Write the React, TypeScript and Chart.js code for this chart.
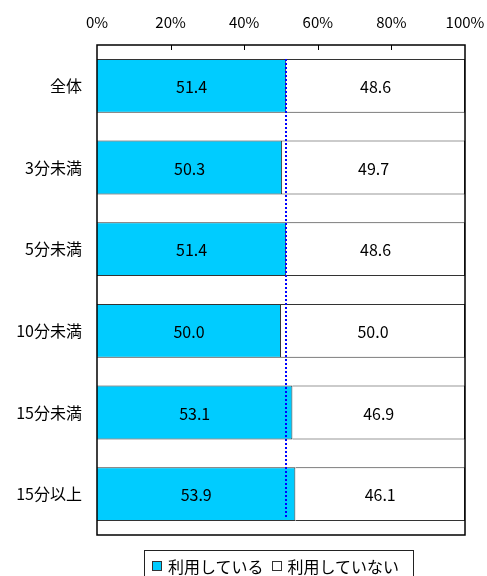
import React, { useEffect, useRef } from "react";
import { Chart, registerables } from "chart.js";

Chart.register(...registerables);

const categories = ["全体", "3分未満", "5分未満", "10分未満", "15分未満", "15分以上"];
const usingValues = [51.4, 50.3, 51.4, 50.0, 53.1, 53.9];
const notUsingValues = [48.6, 49.7, 48.6, 50.0, 46.9, 46.1];
const seriesNames = ["利用している", "利用していない"];
const xTicks = [0, 20, 40, 60, 80, 100];
const referenceValue = 51.4;

const FONT = "'Noto Sans CJK JP', 'Noto Sans', sans-serif";
const CYAN = "#00CCFF";

// frame around the plot area, inward tick marks, value labels and the dotted reference line
const decorations = {
  id: "decorations",
  afterDatasetsDraw(chart: any) {
    const { ctx, chartArea } = chart;
    const xs = chart.scales.x;
    ctx.save();

    // value labels in the middle of every bar segment
    ctx.font = `16px ${FONT}`;
    ctx.fillStyle = "#000";
    ctx.textAlign = "center";
    ctx.textBaseline = "middle";
    chart.data.datasets.forEach((ds: any, di: number) => {
      const meta = chart.getDatasetMeta(di);
      meta.data.forEach((bar: any, i: number) => {
        const cx = (bar.x + bar.base) / 2;
        ctx.fillText(Number(ds.data[i]).toFixed(1), cx, bar.y + 1);
      });
    });

    // dotted reference line at the overall value
    const meta0 = chart.getDatasetMeta(0);
    const first = meta0.data[0];
    const last = meta0.data[meta0.data.length - 1];
    const rx = Math.round(xs.getPixelForValue(referenceValue));
    ctx.strokeStyle = "#0000FF";
    ctx.lineWidth = 2;
    ctx.setLineDash([2, 2]);
    ctx.beginPath();
    ctx.moveTo(rx, first.y - first.height / 2);
    ctx.lineTo(rx, last.y + last.height / 2 - 3);
    ctx.stroke();
    ctx.setLineDash([]);

    // plot frame
    ctx.strokeStyle = "#000";
    ctx.lineWidth = 1.5;
    ctx.strokeRect(chartArea.left, chartArea.top, chartArea.right - chartArea.left, chartArea.bottom - chartArea.top);

    // short tick marks hanging down from the top edge
    ctx.lineWidth = 1;
    xTicks.slice(1, -1).forEach((v) => {
      const px = Math.round(xs.getPixelForValue(v)) + 0.5;
      ctx.beginPath();
      ctx.moveTo(px, chartArea.top);
      ctx.lineTo(px, chartArea.top + 5);
      ctx.stroke();
    });
    ctx.restore();
  },
};

function LegendSwatch({ color }: { color: string }) {
  return (
    <span
      style={{
        display: "inline-block",
        width: 10,
        height: 10,
        boxSizing: "border-box",
        border: "1px solid #333",
        background: color,
      }}
    />
  );
}

export default function App() {
  const canvasRef = useRef<HTMLCanvasElement | null>(null);

  useEffect(() => {
    if (!canvasRef.current) return;
    const chart = new Chart(canvasRef.current, {
      type: "bar",
      data: {
        labels: categories,
        datasets: [
          {
            label: seriesNames[0],
            data: usingValues,
            backgroundColor: CYAN,
            borderColor: "#333333",
            borderWidth: 1,
            barPercentage: 0.66,
            categoryPercentage: 1,
          },
          {
            label: seriesNames[1],
            data: notUsingValues,
            backgroundColor: "#FFFFFF",
            borderColor: "#333333",
            borderWidth: 1,
            barPercentage: 0.66,
            categoryPercentage: 1,
          },
        ],
      },
      options: {
        indexAxis: "y",
        responsive: false,
        animation: false,
        layout: { padding: { left: 0, right: 22, top: 0, bottom: 41 } },
        plugins: {
          legend: { display: false },
          tooltip: { enabled: false },
        },
        scales: {
          x: {
            position: "top",
            stacked: true,
            min: 0,
            max: 100,
            afterBuildTicks: (scale: any) => {
              scale.ticks = xTicks.map((v) => ({ value: v }));
            },
            afterFit: (scale: any) => {
              scale.height = 45;
              scale.paddingLeft = 0;
              scale.paddingRight = 0;
            },
            grid: { display: false, drawTicks: false },
            border: { display: false },
            ticks: {
              padding: 14,
              color: "#000",
              font: { family: FONT, size: 15 },
              maxRotation: 0,
              callback: (v: any) => `${v}%`,
            },
          },
          y: {
            stacked: true,
            afterFit: (scale: any) => {
              scale.width = 97;
              scale.paddingTop = 0;
              scale.paddingBottom = 0;
            },
            grid: { display: false, drawTicks: false },
            border: { display: false },
            ticks: {
              padding: 15,
              color: "#000",
              font: { family: FONT, size: 16 },
            },
          },
        },
      },
      plugins: [decorations],
    });
    return () => chart.destroy();
  }, []);

  return (
    <div
      style={{
        position: "fixed",
        left: 0,
        top: 0,
        width: 487,
        height: 576,
        overflow: "hidden",
        background: "#fff",
      }}
    >
      <canvas ref={canvasRef} width={487} height={576} style={{ display: "block" }} />
      <div
        style={{
          position: "absolute",
          left: 144,
          top: 550,
          width: 270,
          height: 34,
          boxSizing: "border-box",
          border: "1px solid #222",
          fontFamily: FONT,
          fontSize: 16,
          color: "#000",
          display: "flex",
          alignItems: "flex-start",
          paddingTop: 5,
          paddingLeft: 7,
          lineHeight: "20px",
          whiteSpace: "nowrap",
        }}
      >
        <span style={{ display: "flex", alignItems: "center" }}>
          <LegendSwatch color={CYAN} />
          <span style={{ marginLeft: 6 }}>{seriesNames[0]}</span>
        </span>
        <span style={{ display: "flex", alignItems: "center", marginLeft: 8 }}>
          <LegendSwatch color="#FFFFFF" />
          <span style={{ marginLeft: 6 }}>{seriesNames[1]}</span>
        </span>
      </div>
    </div>
  );
}
